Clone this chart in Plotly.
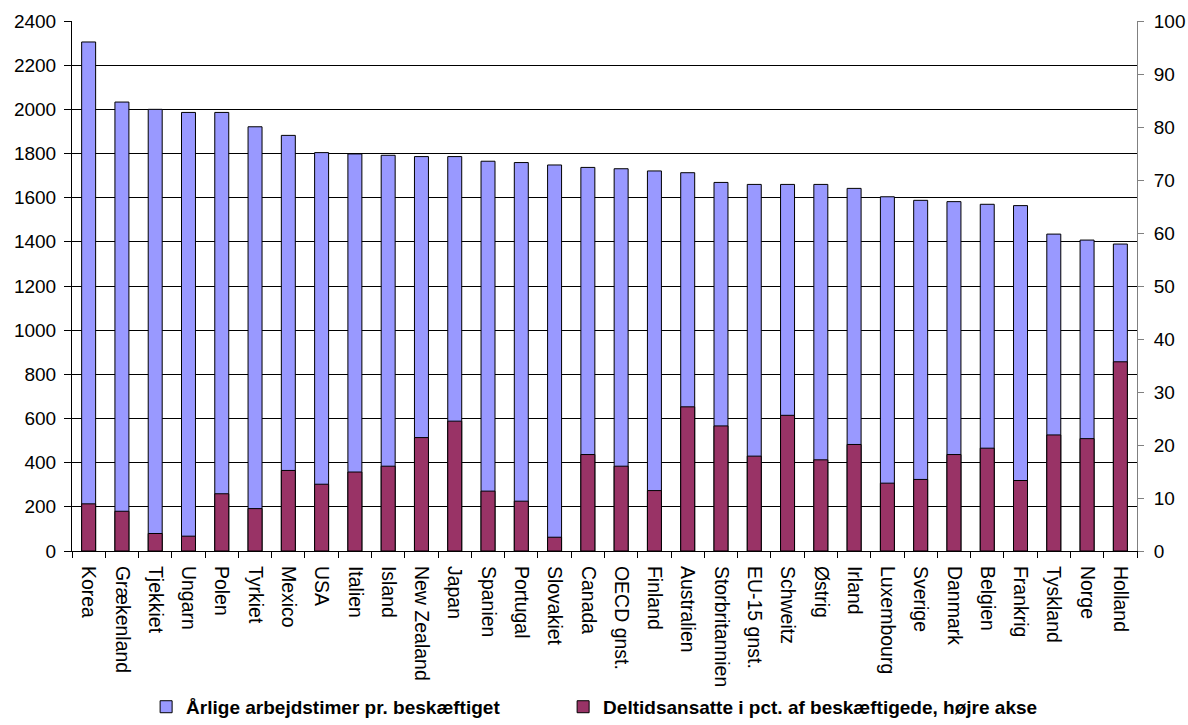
import plotly.graph_objects as go

categories = ["Korea", "Grækenland", "Tjekkiet", "Ungarn", "Polen", "Tyrkiet", "Mexico", "USA",
              "Italien", "Island", "New Zealand", "Japan", "Spanien", "Portugal", "Slovakiet",
              "Canada", "OECD gnst.", "Finland", "Australien", "Storbritannien", "EU-15 gnst.",
              "Schweitz", "Østrig", "Irland", "Luxembourg", "Sverige", "Danmark", "Belgien",
              "Frankrig", "Tyskland", "Norge", "Holland"]

hours = [2305, 2033, 2000, 1986, 1986, 1921, 1882, 1804, 1798, 1792, 1786, 1786, 1765, 1759,
         1748, 1737, 1731, 1721, 1713, 1669, 1660, 1660, 1660, 1642, 1604, 1588, 1582, 1570,
         1564, 1435, 1408, 1390]

parttime_pct = [8.9, 7.5, 3.3, 2.8, 10.8, 8.0, 15.2, 12.6, 14.9, 16.0, 21.4, 24.5, 11.3, 9.4,
                2.6, 18.2, 16.0, 11.4, 27.2, 23.6, 17.9, 25.6, 17.2, 20.1, 12.8, 13.5, 18.2,
                19.4, 13.3, 21.9, 21.2, 35.7]

left_ticks = list(range(0, 2401, 200))
right_ticks = list(range(0, 101, 10))

FONT = "Liberation Sans, Arial, sans-serif"

fig = go.Figure()
fig.add_trace(go.Bar(
    x=categories, y=hours, name="Årlige arbejdstimer pr. beskæftiget",
    marker=dict(color="#9999FF", line=dict(color="#000000", width=1)),
    width=0.42, yaxis="y", legend="legend",
))
fig.add_trace(go.Bar(
    x=categories, y=parttime_pct, name="Deltidsansatte i pct. af beskæftigede, højre akse",
    marker=dict(color="#993366", line=dict(color="#000000", width=1)),
    width=0.42, yaxis="y2", legend="legend2",
))

fig.update_layout(
    width=1188, height=725,
    margin=dict(l=72, r=51, t=21, b=174, autoexpand=False),
    paper_bgcolor="white", plot_bgcolor="white",
    barmode="overlay",
    font=dict(family=FONT, color="black", size=18),
    xaxis=dict(
        tickangle=90, tickfont=dict(size=19.5, family=FONT, color="black"),
        showline=True, linecolor="#000000", linewidth=1,
        ticks="outside", ticklen=6, tickcolor="#000000", tickson="boundaries",
        showgrid=False, range=[-0.5, len(categories) - 0.5],
        automargin=False, ticklabelstandoff=10,
    ),
    yaxis=dict(
        range=[0, 2400], tickvals=left_ticks, ticktext=[str(v) for v in left_ticks],
        tickfont=dict(size=19, family=FONT, color="black"),
        showline=True, linecolor="#000000", linewidth=1,
        ticks="outside", ticklen=7, tickcolor="#000000",
        showgrid=True, gridcolor="#000000", gridwidth=1, zeroline=False,
        ticklabelstandoff=4, automargin=False,
    ),
    yaxis2=dict(
        range=[0, 100], tickvals=right_ticks, ticktext=[str(v) for v in right_ticks],
        tickfont=dict(size=19, family=FONT, color="black"),
        overlaying="y", side="right",
        showline=True, linecolor="#808080", linewidth=1,
        ticks="outside", ticklen=6, tickcolor="#808080",
        showgrid=False, zeroline=False, ticklabelstandoff=6, automargin=False,
    ),
    legend=dict(
        orientation="h", xref="container", yref="container",
        x=0.123, y=0.025, xanchor="left", yanchor="middle",
        font=dict(size=19, family=FONT, color="black", weight="bold"),
        bgcolor="rgba(0,0,0,0)", borderwidth=0,
    ),
    legend2=dict(
        orientation="h", xref="container", yref="container",
        x=0.474, y=0.025, xanchor="left", yanchor="middle",
        font=dict(size=19, family=FONT, color="black", weight="bold"),
        bgcolor="rgba(0,0,0,0)", borderwidth=0,
    ),
    showlegend=True,
)

fig.write_html("out.html")
